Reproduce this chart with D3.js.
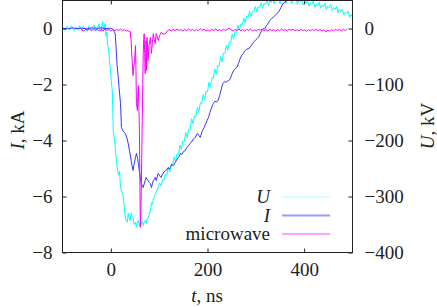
<!DOCTYPE html>
<html>
<head>
<meta charset="utf-8">
<script src="https://cdn.jsdelivr.net/npm/d3@7"></script>
<style>
  body { margin: 0; background: #fff; }
  svg text { font-family: "Liberation Serif", "DejaVu Serif", serif; fill: #222; }
</style>
</head>
<body>
<div id="container"></div>
<script>
/* CONSTANTS AND GLOBALS */
const width = 437;
const height = 307;
const plotLeft = 62.5, plotRight = 352.5, plotTop = 0.5, plotBottom = 252.5;
const serif = '"Liberation Serif", "DejaVu Serif", serif';

// DATA
const xTicks = [0, 200, 400];
const iTicks = [-8, -6, -4, -2, 0];
const uTicks = [-400, -300, -200, -100, 0];
const seriesNames = ["U", "I", "microwave"];

// U, kV vs t, ns
const voltage = [
  [-100,2],[-97,-2],[-95,-3],[-92,3],[-90,4],[-87,-1],[-85,-2],[-82,5],[-80,3],[-77,-2],[-75,-4],[-72,2],[-70,1],[-67,-3],[-65,5],[-62,1],[-60,-3],[-57,4],[-55,2],
  [-52,-1],[-50,-5],[-47,1],[-45,4],[-42,-3],[-40,-2],[-37,3],[-35,6],[-32,-1],[-30,-4],[-27,2],[-25,8],[-22,-3],[-20,-6],[-17,12],[-15,-4],[-12,9],
  [-10,-14],[-8,-6],[-7,-28],[-5,-36],[-3,-55],[-1,-71],[1,-95],[3,-111],[5,-182],[7,-195],[9,-209],
  [11,-230],[13,-248],[16,-262],[18,-255],[20,-284],[23,-292],[26,-302],[28,-322],[30,-338],[32,-344],
  [34,-346],[36,-330],[38,-338],[40,-343],[42,-329],[44,-336],[46,-338],[48,-350],[51,-346],[53,-354],
  [55,-345],[57,-343],[59,-352],[61,-347],[63,-350],[65,-344],[67,-352],[69,-346],[71,-343],[73,-348],
  [75,-340],[77,-338],[79,-333],[82,-325],[84,-311],[86,-314],[88,-303],[90,-300],[92,-295],[95,-290],
  [98,-284],[101,-276],[104,-281],[107,-270],[110,-271],[113,-260],[116,-261],[119,-249],[122,-256],[125,-242],
  [128,-243],[131,-229],[134,-237],[137,-224],[140,-225],[143,-208],[146,-216],[149,-201],[152,-202],[155,-186],
  [158,-195],[161,-180],[164,-181],[167,-161],[170,-170],[173,-156],[176,-157],[179,-141],[182,-150],[185,-133],
  [188,-134],[191,-118],[194,-127],[197,-112],[200,-113],[203,-96],[206,-105],[209,-88],[212,-89],[215,-72],
  [218,-82],[221,-66],[224,-67],[227,-50],[230,-60],[233,-44],[236,-45],[239,-30],[242,-39],[245,-24],
  [248,-26],[251,-10],[254,-19],[257,-6],[260,-7],[263,6],[266,-3],[269,8],[272,7],[275,19],
  [278,10],[281,22],[284,20],[287,31],[290,21],[293,31],[296,30],[299,39],[302,30],[305,39],
  [308,37],[311,46],[314,36],[317,45],[320,43],[323,51],[326,41],[329,49],[332,47],[335,54],
  [338,44],[341,51],[344,49],[347,54],[350,44],[353,52],[356,50],[359,54],[362,45],[365,53],
  [368,50],[371,55],[374,44],[377,52],[380,49],[383,54],[386,43],[389,51],[392,48],[395,53],
  [398,42],[401,48],[404,45],[407,51],[410,40],[413,46],[416,43],[419,49],[422,38],[425,44],
  [428,41],[431,47],[434,36],[437,42],[440,39],[443,45],[446,34],[449,40],[452,37],[455,43],
  [458,32],[461,37],[464,34],[467,40],[470,28],[473,34],[476,30],[479,35],[482,24],[485,29],
  [488,26],[491,31],[494,20],[497,25],[500,21]
];

// I, kA vs t, ns
const current = [
  [-100,0.01],[-90,-0.01],[-80,0.02],[-70,0],[-60,0.01],[-50,-0.01],[-40,0.02],[-30,0.01],[-20,0.02],[-10,0],
  [0,0.01],[5,-0.04],[9,-0.18],[11,-0.71],[13,-1.32],[15,-1.68],[17,-2.1],[20,-2.68],[22,-3.54],[24,-3.62],
  [27,-3.7],[30,-3.75],[33,-3.9],[36,-4.1],[39,-4.4],[42,-4.71],[44,-4.9],[46,-5.07],[48,-4.85],[51,-4.61],
  [53,-4.46],[55,-4.6],[57,-4.82],[59,-5.1],[61,-5.32],[63,-5.54],[65,-5.6],[67,-5.68],[69,-5.55],[71,-5.43],
  [73,-5.32],[75,-5.38],[77,-5.43],[80,-5.5],[82,-5.54],[84,-5.68],[86,-5.55],[88,-5.43],[90,-5.38],[92,-5.32],
  [94,-5.43],[96,-5.3],[98,-5.18],[101,-5.26],[104,-5.32],[107,-5.2],[110,-5.12],[113,-5.07],[116,-5.05],[119,-4.96],
  [121,-5.02],[123,-4.96],[126,-4.86],[129,-4.9],[133,-4.79],[136,-4.7],[139,-4.62],[142,-4.55],[144,-4.46],[147,-4.5],
  [150,-4.4],[154,-4.36],[157,-4.25],[160,-4.2],[164,-4.11],[167,-4.05],[170,-3.96],[173,-3.92],[175,-3.89],[177,-3.8],
  [179,-3.75],[182,-3.82],[185,-3.89],[188,-3.72],[191,-3.6],[193,-3.54],[196,-3.42],[199,-3.29],[202,-3.18],[205,-3.0],
  [208,-2.85],[210,-2.76],[212,-2.68],[215,-2.6],[218,-2.62],[222,-2.57],[225,-2.4],[228,-2.2],[230,-2.05],[232,-1.96],
  [235,-1.9],[238,-1.92],[241,-1.88],[244,-1.86],[247,-1.8],[250,-1.65],[254,-1.5],[258,-1.42],[261,-1.39],[264,-1.25],
  [267,-1.1],[271,-0.95],[274,-0.89],[277,-0.8],[281,-0.74],[284,-0.72],[288,-0.68],[291,-0.6],[295,-0.5],[299,-0.42],
  [303,-0.36],[306,-0.3],[309,-0.18],[312,-0.08],[315,0],[318,-0.02],[322,0.1],[326,0.2],[329,0.29],[333,0.36],
  [337,0.42],[341,0.48],[344,0.54],[348,0.62],[352,0.74],[356,0.89],[360,0.94],[365,1.0],[371,1.1],[380,1.25]
];

// microwave signal, drawn on the I axis
const microwave = [
  [-62,-0.03],[-60,-0.06],[-56,-0.09],[-52,-0.02],[-48,-0.06],[-44,-0.01],[-40,-0.08],[-36,-0.03],[-32,-0.07],[-28,-0.02],
  [-24,-0.09],[-20,-0.04],[-16,-0.08],[-12,-0.02],[-8,-0.07],[-4,-0.03],[0,-0.09],[4,-0.04],[8,-0.08],[12,-0.03],
  [16,-0.07],[20,-0.02],[24,-0.08],[28,-0.04],[32,-0.09],[36,-0.07],[38,-0.12],[40,-0.1],[42,-0.43],[43,-0.8],
  [44,-1.14],[46,-1.68],[47,-1.4],[49,-1.21],[50,-0.9],[51,-0.61],[52,-1.5],[53,-2.68],[55,-2.93],[56,-2.3],
  [57,-2.04],[58,-2.8],[59,-3.46],[60,-5.2],[61,-7.1],[62,-6.6],[63,-5.79],[64,-4.5],[65,-3.29],[66,-2.0],
  [67,-0.89],[68,-0.4],[69,-0.18],[70,-0.9],[71,-1.61],[72,-1.0],[73,-0.43],[74,-1.5],[75,-0.32],[76,-0.7],
  [77,-1.14],[79,-0.6],[82,-0.32],[83,-0.6],[84,-0.89],[86,-0.5],[88,-0.18],[90,-0.4],[92,-0.54],[93,-0.3],
  [94,-0.18],[96,-0.3],[98,-0.43],[101,-0.25],[104,-0.14],[108,-0.2],[113,-0.18],[117,-0.08],[121,-0.04],[125,-0.09],
  [129,-0.03],[133,-0.08],[137,-0.02],[141,-0.07],[145,-0.04],[149,-0.1],[153,-0.03],[157,-0.08],[161,-0.02],[165,-0.07],
  [169,-0.03],[173,-0.09],[177,-0.04],[181,-0.08],[185,-0.01],[189,-0.06],[193,-0.03],[197,-0.09],[201,-0.05],[205,-0.1],
  [209,-0.03],[213,-0.07],[217,-0.02],[221,-0.08],[225,-0.04],[229,-0.09],[233,-0.02],[237,-0.07],[241,-0.03],[245,0.02],
  [249,-0.05],[253,-0.09],[257,-0.03],[261,-0.07],[265,-0.02],[269,-0.08],[273,-0.04],[277,-0.09],[281,-0.03],[285,-0.07],
  [289,-0.02],[293,-0.08],[297,-0.05],[301,-0.09],[305,-0.03],[309,-0.06],[313,-0.02],[317,-0.08],[321,-0.04],[325,-0.09],
  [329,-0.03],[333,-0.07],[337,-0.04],[341,-0.1],[345,-0.03],[349,-0.08],[353,-0.02],[357,-0.07],[361,-0.04],[365,-0.09],
  [369,-0.03],[373,-0.06],[377,-0.02],[381,-0.08],[385,-0.04],[389,-0.09],[393,-0.03],[397,-0.07],[401,-0.05],[405,-0.1],
  [409,-0.04],[413,-0.08],[417,-0.03],[421,-0.07],[425,-0.02],[429,-0.08],[433,-0.04],[437,-0.09],[441,-0.05],[445,-0.12],
  [449,-0.06],[453,-0.1],[457,-0.04],[461,-0.08],[465,-0.03],[469,-0.07],[473,-0.04],[477,-0.09],[481,-0.03],[485,-0.07],
  [489,-0.02]
];

// SCALES
const xScale = d3.scaleLinear().domain([-100, 500]).range([plotLeft, plotRight]);
const yI = d3.scaleLinear().domain([-8, 1]).range([plotBottom, plotTop]);
const yU = d3.scaleLinear().domain([-400, 50]).range([plotBottom, plotTop]);

const svg = d3.select("#container")
  .append("svg")
  .attr("width", width)
  .attr("height", height);

svg.append("clipPath")
  .attr("id", "plot-clip")
  .append("rect")
  .attr("x", plotLeft).attr("y", plotTop)
  .attr("width", plotRight - plotLeft).attr("height", plotBottom - plotTop);

// LINES
const lineU = d3.line().x(d => xScale(d[0])).y(d => yU(d[1]));
const lineI = d3.line().x(d => xScale(d[0])).y(d => yI(d[1]));

const plot = svg.append("g").attr("clip-path", "url(#plot-clip)");

plot.append("path")
  .datum(voltage)
  .attr("fill", "none")
  .attr("stroke", "#00ffff")
  .attr("stroke-width", 1)
  .attr("d", lineU);

plot.append("path")
  .datum(current)
  .attr("fill", "none")
  .attr("stroke", "#3434ff")
  .attr("stroke-width", 1)
  .attr("d", lineI);

plot.append("path")
  .datum(microwave)
  .attr("fill", "none")
  .attr("stroke", "#ff00ff")
  .attr("stroke-width", 1)
  .attr("d", lineI);

// AXES (gnuplot style, ticks pointing inward)
const fontSize = "19px";

function styleAxis(g) {
  g.select(".domain").remove();
  g.attr("font-family", serif).attr("font-size", 19);
  g.selectAll("text")
    .style("font-family", serif)
    .style("font-size", fontSize)
    .attr("fill", "#222");
  g.selectAll(".tick line").attr("stroke", "#222");
}

const xAxis = d3.axisBottom(xScale).tickValues(xTicks).tickSize(-4).tickSizeOuter(0).tickPadding(10.5);
svg.append("g")
  .attr("transform", `translate(0, ${plotBottom})`)
  .call(xAxis)
  .call(styleAxis);

const xAxisTop = d3.axisTop(xScale).tickValues(xTicks).tickSize(-4).tickSizeOuter(0).tickFormat("");
svg.append("g")
  .attr("transform", `translate(0, ${plotTop})`)
  .call(xAxisTop)
  .call(styleAxis);

const yAxisLeft = d3.axisLeft(yI).tickValues(iTicks).tickSize(-4).tickSizeOuter(0).tickPadding(10);
svg.append("g")
  .attr("transform", `translate(${plotLeft}, 0)`)
  .call(yAxisLeft)
  .call(styleAxis);

const yAxisRight = d3.axisRight(yU).tickValues(uTicks).tickSize(-4).tickSizeOuter(0).tickPadding(12);
svg.append("g")
  .attr("transform", `translate(${plotRight}, 0)`)
  .call(yAxisRight)
  .call(styleAxis);

// frame
svg.append("rect")
  .attr("x", plotLeft).attr("y", plotTop)
  .attr("width", plotRight - plotLeft).attr("height", plotBottom - plotTop)
  .attr("fill", "none")
  .attr("stroke", "#222")
  .attr("stroke-width", 1);

// AXIS LABELS
const yLabel = svg.append("text")
  .attr("transform", "translate(24, 130) rotate(-90)")
  .attr("text-anchor", "middle")
  .style("font-size", fontSize);
yLabel.append("tspan").style("font-style", "italic").text("I");
yLabel.append("tspan").text(", kA");

const uLabel = svg.append("text")
  .attr("transform", "translate(434, 126) rotate(-90)")
  .attr("text-anchor", "middle")
  .style("font-size", fontSize);
uLabel.append("tspan").style("font-style", "italic").text("U");
uLabel.append("tspan").text(", kV");

const xLabel = svg.append("text")
  .attr("x", 207)
  .attr("y", 302)
  .attr("text-anchor", "middle")
  .style("font-size", fontSize);
xLabel.append("tspan").style("font-style", "italic").text("t");
xLabel.append("tspan").text(", ns");

// LEGEND
const legendColors = ["#aaffff", "#9a9aff", "#ff40ff"];
const legendWidths = [1, 2, 1];
const legend = svg.selectAll(".legend")
  .data(seriesNames)
  .join("g")
  .attr("class", "legend")
  .attr("transform", (d, i) => `translate(0, ${197 + i * 18.5})`);

legend.append("text")
  .attr("x", 270)
  .attr("y", 6)
  .attr("text-anchor", "end")
  .style("font-size", fontSize)
  .style("font-style", d => d === "microwave" ? "normal" : "italic")
  .text(d => d);

legend.append("line")
  .attr("x1", 282).attr("x2", 330)
  .attr("y1", 0).attr("y2", 0)
  .attr("stroke", (d, i) => legendColors[i])
  .attr("stroke-width", (d, i) => legendWidths[i]);
</script>
</body>
</html>
